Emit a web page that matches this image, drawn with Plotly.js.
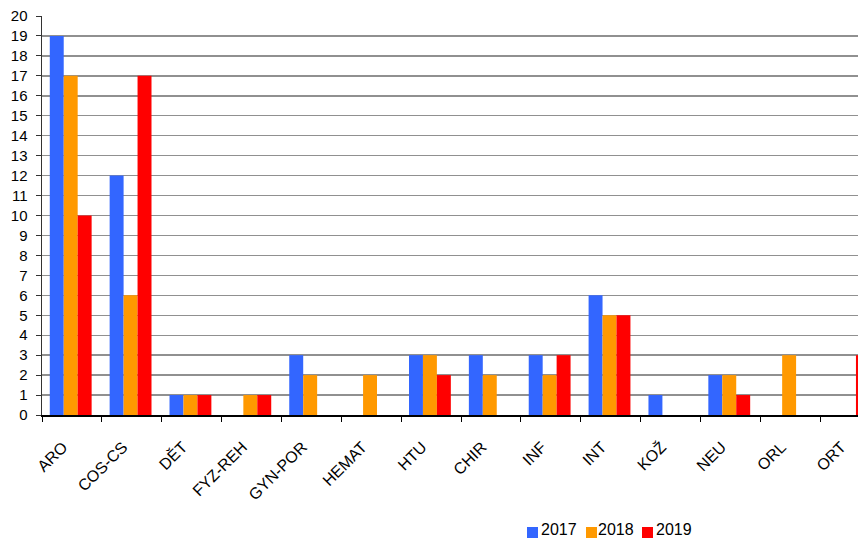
<!DOCTYPE html>
<html>
<head>
<meta charset="utf-8">
<script src="https://cdn.plot.ly/plotly-3.0.1.min.js"></script>
<style>html,body{margin:0;padding:0;background:#fff;}#chart{width:858px;height:539px;}</style>
</head>
<body>
<div id="chart"></div>
<script>
const categories = ["ARO","COS-CS","DĚT","FYZ-REH","GYN-POR","HEMAT","HTU","CHIR","INF","INT","KOŽ","NEU","ORL","ORT"];
const values2017 = [19,12,1,0,3,0,3,3,3,6,1,2,0,0];
const values2018 = [17,6,1,1,2,2,3,2,2,5,0,2,3,0];
const values2019 = [10,17,1,1,0,0,2,0,3,5,0,1,0,3];
const seriesNames = ["2017","2018","2019"];
const yTicks = [0,1,2,3,4,5,6,7,8,9,10,11,12,13,14,15,16,17,18,19,20];

const colors = ["#3366FF","#FF9900","#FF0000"];
const barOffsets = [-0.37, -0.137, 0.096];
const barWidth = 0.233;
const allValues = [values2017, values2018, values2019];
const data = allValues.map((v,i)=>({
  type:"bar", x:categories, y:v, name:seriesNames[i],
  offset:barOffsets[i], width:barWidth,
  marker:{color:colors[i], line:{width:0}}, hoverinfo:"x+y+name"
}));

// plot geometry (px) for manual legend placement
const L = 42, T = 16, W = 816, H = 399;
const px2x = p => (p - L) / W;
const py2y = p => (T + H - p) / H;
const legendSquares = [527, 586, 642];
const legendTexts = [540, 597, 655];
const shapes = [], annotations = [];
seriesNames.forEach((n,i)=>{
  shapes.push({type:"rect", xref:"paper", yref:"paper",
    x0:px2x(legendSquares[i]), x1:px2x(legendSquares[i]+11),
    y0:py2y(538), y1:py2y(527), fillcolor:colors[i], line:{width:0}});
  annotations.push({xref:"paper", yref:"paper", x:px2x(legendTexts[i]), y:py2y(538.5),
    xanchor:"left", yanchor:"bottom", showarrow:false, text:n, borderpad:0,
    font:{size:16, color:"#000"}});
});

const layout = {
  width:858, height:539,
  margin:{l:L, r:0, t:T, b:539-T-H, pad:0},
  paper_bgcolor:"#fff", plot_bgcolor:"#fff",
  font:{family:"Liberation Sans, Arial, sans-serif", size:15, color:"#000"},
  barmode:"group",
  xaxis:{
    type:"category", range:[-0.5, 13.13], tickangle:-45,
    tickson:"boundaries", ticks:"outside", ticklen:5, tickcolor:"#000", tickwidth:1,
    showline:true, linecolor:"#000", linewidth:1.5, showgrid:false, zeroline:false,
    tickfont:{size:16}, ticklabelshift:-9, ticklabelstandoff:15, fixedrange:true
  },
  yaxis:{
    range:[0,20], tickvals:yTicks, ticktext:yTicks.map(String),
    ticks:"outside", ticklen:5, tickcolor:"#333", tickwidth:1,
    showline:true, linecolor:"#333", linewidth:1.5,
    showgrid:true, gridcolor:"#909090", gridwidth:1.4, zeroline:false,
    tickfont:{size:15}, ticklabelstandoff:5, fixedrange:true
  },
  showlegend:false,
  shapes:shapes, annotations:annotations
};
Plotly.newPlot("chart", data, layout, {displayModeBar:false, staticPlot:true});
</script>
</body>
</html>
